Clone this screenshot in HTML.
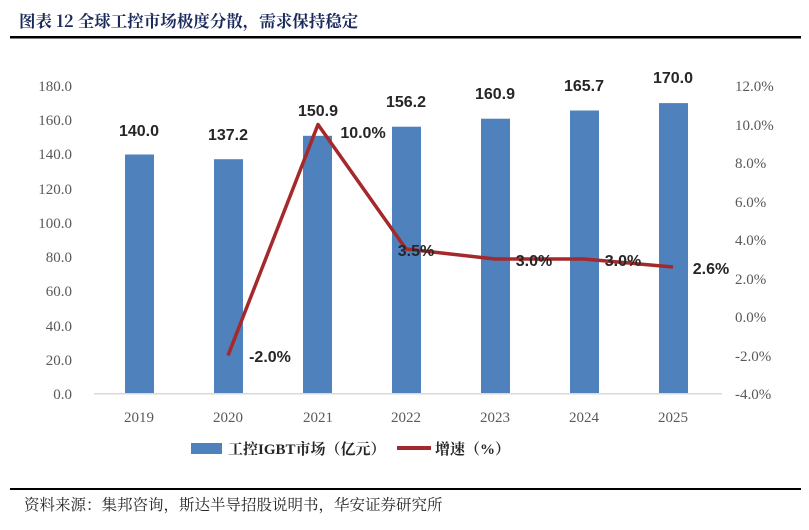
<!DOCTYPE html>
<html><head><meta charset="utf-8"><style>
body{margin:0;background:#fff;}
svg{display:block}
</style></head><body>
<svg width="809" height="530" xmlns="http://www.w3.org/2000/svg">
<text x="19" y="27" font-family="'Noto Serif CJK SC','Noto Sans CJK SC',serif" font-weight="bold" font-size="16.5" fill="#1b2a5c">图表 12 全球工控市场极度分散，需求保持稳定</text>
<rect x="10" y="36" width="791" height="2.5" fill="#000"/>
<g font-family="'Liberation Serif',serif" font-size="15" fill="#595959">
<text x="72" y="91" text-anchor="end">180.0</text>
<text x="72" y="125" text-anchor="end">160.0</text>
<text x="72" y="159" text-anchor="end">140.0</text>
<text x="72" y="194" text-anchor="end">120.0</text>
<text x="72" y="228" text-anchor="end">100.0</text>
<text x="72" y="262" text-anchor="end">80.0</text>
<text x="72" y="296" text-anchor="end">60.0</text>
<text x="72" y="331" text-anchor="end">40.0</text>
<text x="72" y="365" text-anchor="end">20.0</text>
<text x="72" y="399" text-anchor="end">0.0</text>
<text x="735" y="91">12.0%</text>
<text x="735" y="130">10.0%</text>
<text x="735" y="168">8.0%</text>
<text x="735" y="207">6.0%</text>
<text x="735" y="245">4.0%</text>
<text x="735" y="284">2.0%</text>
<text x="735" y="322">0.0%</text>
<text x="735" y="361">-2.0%</text>
<text x="735" y="399">-4.0%</text>
<g text-anchor="middle">
<text x="139" y="422">2019</text><text x="228" y="422">2020</text><text x="318" y="422">2021</text><text x="406" y="422">2022</text><text x="495" y="422">2023</text><text x="584" y="422">2024</text><text x="673" y="422">2025</text>
</g></g>
<g fill="#4f81bd">
<rect x="125" y="154.5" width="29" height="239.5"/>
<rect x="214" y="159.2" width="29" height="234.8"/>
<rect x="303" y="135.8" width="29" height="258.2"/>
<rect x="392" y="126.7" width="29" height="267.3"/>
<rect x="481" y="118.7" width="29" height="275.3"/>
<rect x="570" y="110.5" width="29" height="283.5"/>
<rect x="659" y="103.1" width="29" height="290.9"/>
</g>
<rect x="94" y="393" width="628" height="1.5" fill="#d9d9d9"/>
<polyline points="228,355.5 318,124.5 406,249 495,259 584,259 673,267" fill="none" stroke="#a5282a" stroke-width="3.5" stroke-linejoin="round"/>
<g font-family="'Liberation Sans',sans-serif" font-size="16" font-weight="bold" fill="#262626" text-anchor="middle">
<text x="139" y="136">140.0</text><text x="228" y="140">137.2</text><text x="318" y="116">150.9</text><text x="406" y="107">156.2</text><text x="495" y="99">160.9</text><text x="584" y="91">165.7</text><text x="673" y="83">170.0</text>
<text x="270" y="362">-2.0%</text><text x="363" y="138">10.0%</text><text x="416" y="256">3.5%</text><text x="534" y="266">3.0%</text><text x="623" y="266">3.0%</text><text x="711" y="274">2.6%</text>
</g>
<rect x="191" y="443" width="31" height="11" fill="#4f81bd"/>
<text x="228" y="454" font-family="'Liberation Serif','Noto Serif CJK SC',serif" font-weight="bold" font-size="15" fill="#262626">工控IGBT市场（亿元）</text>
<rect x="397" y="446" width="34" height="4" fill="#a5282a"/>
<text x="435" y="454" font-family="'Liberation Serif','Noto Serif CJK SC',serif" font-weight="bold" font-size="15" fill="#262626">增速（%）</text>
<rect x="10" y="488" width="791" height="2" fill="#000"/>
<text x="24" y="510" font-family="'Noto Serif CJK SC',serif" font-size="15.5" fill="#262626">资料来源：集邦咨询，斯达半导招股说明书，华安证券研究所</text>
</svg>
</body></html>
